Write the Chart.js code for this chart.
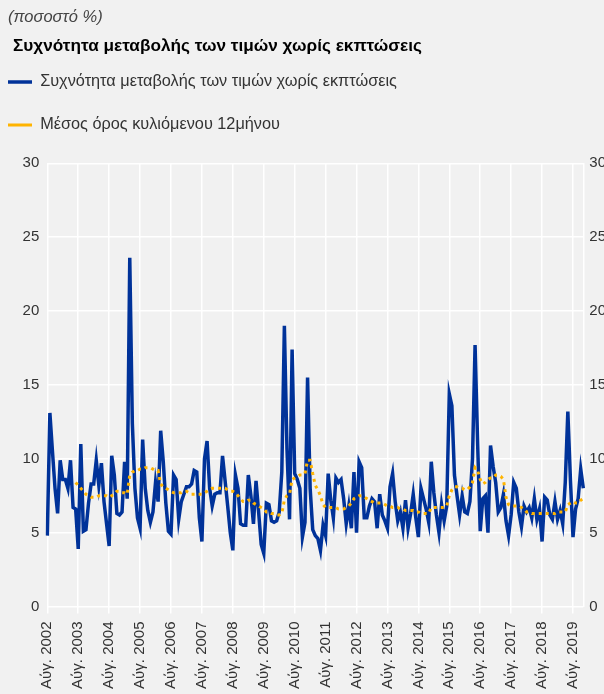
<!DOCTYPE html>
<html>
<head>
<meta charset="utf-8">
<script src="https://cdn.jsdelivr.net/npm/chart.js@4/dist/chart.umd.min.js"></script>
<style>
  html, body { margin: 0; padding: 0; background: #f1f1f1; }
  #wrap { width: 604px; height: 694px; }
</style>
</head>
<body>
<div id="wrap"><canvas id="c" width="604" height="694"></canvas></div>
<script>
// ---------- data ----------
const unitLabel = '(ποσοστό %)';
const chartTitle = 'Συχνότητα μεταβολής των τιμών χωρίς εκπτώσεις';
const seriesNames = ['Συχνότητα μεταβολής των τιμών χωρίς εκπτώσεις', 'Μέσος όρος κυλιόμενου 12μήνου'];
const monthNames = ['Ιαν.', 'Φεβ.', 'Μαρ.', 'Απρ.', 'Μάι.', 'Ιούν.', 'Ιούλ.', 'Αύγ.', 'Σεπ.', 'Οκτ.', 'Νοέ.', 'Δεκ.'];
const startYear = 2002;
const startMonth = 7; // August
const yTicks = [0, 5, 10, 15, 20, 25, 30];

// monthly frequency of price changes excluding sales (Aug 2002 - Dec 2019)
const frequency = [
  4.8, 13.1, 10.5, 8.0, 6.3, 9.9, 8.6, 8.6, 8.0, 9.9, 6.7, 6.6,
  3.9, 11.0, 5.1, 5.2, 7.0, 8.3, 8.3, 9.9, 8.2, 9.7, 7.1, 5.6,
  4.1, 10.2, 8.9, 6.3, 6.2, 6.4, 9.8, 7.3, 23.6, 12.4, 8.0, 6.0,
  5.3, 11.3, 8.0, 6.5, 5.7, 6.4, 8.4, 7.1, 11.9, 9.8, 7.0, 5.1,
  4.9, 8.9, 8.6, 5.9, 7.1, 7.6, 8.1, 8.1, 8.3, 9.2, 9.1, 6.0,
  4.4, 10.0, 11.2, 8.0, 6.8, 7.6, 7.7, 7.7, 10.2, 8.5, 6.8, 5.0,
  3.8, 8.9, 8.0, 5.6, 5.5, 5.5, 8.9, 7.5, 5.6, 8.5, 6.4, 4.2,
  3.6, 7.0, 6.9, 5.8, 5.7, 5.8, 6.4, 9.1, 19.0, 10.7, 5.9, 17.4,
  9.0, 8.6, 8.0, 4.7, 5.7, 15.5, 8.0, 5.2, 4.8, 4.6, 3.8, 5.5,
  4.8, 9.0, 7.2, 6.0, 8.7, 8.4, 8.6, 7.3, 5.6, 6.8, 5.3, 9.1,
  5.0, 9.8, 9.4, 6.0, 6.0, 6.8, 7.3, 7.1, 5.3, 7.6, 6.2, 5.8,
  5.3, 8.1, 9.0, 7.1, 5.8, 6.4, 5.3, 7.2, 5.3, 6.3, 7.6, 6.0,
  4.7, 8.0, 7.3, 6.6, 5.7, 9.8, 7.7, 6.2, 5.0, 6.9, 5.8, 6.8,
  14.4, 13.6, 8.9, 7.5, 6.2, 7.5, 6.4, 6.3, 7.1, 10.0, 17.7, 11.0,
  5.1, 7.3, 7.5, 5.0, 10.9, 9.5, 8.4, 6.4, 6.7, 7.6, 5.8, 4.8,
  6.2, 8.4, 8.0, 6.4, 5.4, 6.8, 6.4, 6.7, 6.0, 7.3, 5.9, 6.6,
  4.4, 7.4, 7.2, 6.2, 5.9, 7.1, 5.9, 6.5, 5.6, 8.4, 13.2, 8.6,
  4.7, 6.6, 7.3, 9.3, 8.0
];

// 12-month rolling average
const rolling12 = [
  null, null, null, null, null, null, null, null, null, null, null, 8.4,
  8.2, 8.0, 7.8, 7.6, 7.5, 7.4, 7.4, 7.4, 7.5, 7.5, 7.5, 7.5,
  7.4, 7.5, 7.6, 7.8, 7.8, 7.7, 7.7, 7.6, 8.9, 9.1, 9.2, 9.2,
  9.3, 9.3, 9.4, 9.4, 9.4, 9.3, 9.2, 9.2, 8.3, 8.1, 8.0, 7.9,
  7.8, 7.7, 7.7, 7.7, 7.7, 7.8, 7.8, 7.7, 7.6, 7.6, 7.6, 7.6,
  7.6, 7.7, 7.8, 7.9, 8.0, 8.0, 8.0, 8.0, 8.0, 8.0, 7.9, 7.8,
  7.8, 7.7, 7.5, 7.3, 7.1, 7.1, 7.2, 7.2, 7.0, 6.9, 6.8, 6.7,
  6.6, 6.4, 6.4, 6.3, 6.3, 6.2, 6.2, 6.3, 7.2, 7.5, 7.6, 8.6,
  8.7, 8.8, 8.9, 8.9, 9.0, 9.9, 9.9, 9.0, 8.2, 7.9, 7.5, 6.9,
  6.7, 6.7, 6.7, 6.7, 6.7, 6.6, 6.6, 6.6, 6.7, 6.8, 7.0, 7.3,
  7.4, 7.5, 7.5, 7.4, 7.3, 7.2, 7.1, 7.0, 7.0, 7.0, 7.0, 6.9,
  6.8, 6.8, 6.7, 6.7, 6.7, 6.6, 6.6, 6.5, 6.5, 6.5, 6.5, 6.4,
  6.4, 6.3, 6.3, 6.3, 6.3, 6.7, 6.7, 6.7, 6.7, 6.7, 6.7, 6.8,
  7.5, 7.9, 8.1, 8.1, 8.0, 8.0, 7.9, 7.9, 8.1, 8.4, 9.4, 9.2,
  8.6, 8.3, 8.4, 8.6, 8.7, 8.7, 8.9, 8.9, 8.8, 8.6, 7.4, 6.9,
  6.8, 6.8, 6.8, 6.8, 6.7, 6.6, 6.4, 6.4, 6.3, 6.3, 6.3, 6.3,
  6.3, 6.3, 6.3, 6.3, 6.3, 6.3, 6.4, 6.4, 6.4, 6.4, 6.9, 7.0,
  7.1, 7.0, 7.0, 7.2, 7.3
];

// category labels (one per month)
const categories = frequency.map((_, i) => {
  const k = startMonth + i;
  return monthNames[k % 12] + ' ' + (startYear + Math.floor(k / 12));
});

// ---------- layout / style ----------
const FONT = "'Liberation Sans', Arial, Helvetica, sans-serif";
const BG = '#f1f1f1';
const PLOT_LEFT = 47.3, PLOT_RIGHT = 583.3, PLOT_BOTTOM = 606.5;
const CANVAS_W = 604, CANVAS_H = 694;
const LEGEND_FONT = 16.3;
const LEGEND_PAD = 43 - LEGEND_FONT;

Chart.defaults.font.family = FONT;
Chart.defaults.color = '#333';

const bgPlugin = {
  id: 'bg',
  beforeDraw(chart) {
    const ctx = chart.ctx;
    ctx.save();
    ctx.fillStyle = BG;
    ctx.fillRect(0, 0, chart.width, chart.height);
    ctx.restore();
  }
};

const layoutTweak = {
  id: 'layoutTweak',
  afterLayout(chart) {
    const lg = chart.legend;
    if (lg) {
      const dx = 8 - (lg.left + LEGEND_PAD);
      lg.left += dx; lg.right += dx;
      const dy = (82 - LEGEND_FONT / 2 - LEGEND_PAD) - lg.top;
      lg.top += dy; lg.bottom += dy;
    }
    chart.boxes.forEach(b => {
      if (b.options && b.options.text === chartTitle) { b.left += 5; b.right += 5; }
    });
  }
};

const gridColor = c => (c.tick && c.tick.value % 12 === 0) ? '#ffffff' : 'rgba(255,255,255,0)';

new Chart(document.getElementById('c'), {
  type: 'line',
  data: {
    labels: categories,
    datasets: [
      {
        label: seriesNames[0],
        data: frequency,
        borderColor: '#003299',
        backgroundColor: '#003299',
        borderWidth: 3.5,
        pointRadius: 0,
        tension: 0,
        order: 2,
        yAxisID: 'y'
      },
      {
        label: seriesNames[1],
        data: rolling12,
        borderColor: '#FFB400',
        backgroundColor: '#FFB400',
        borderWidth: 3,
        borderDash: [3, 4],
        pointRadius: 0,
        tension: 0,
        order: 1,
        yAxisID: 'y'
      }
    ]
  },
  options: {
    responsive: false,
    devicePixelRatio: 1,
    animation: false,
    layout: { padding: { left: 8, right: 0, top: 0, bottom: 0 } },
    plugins: {
      title: {
        display: true,
        text: unitLabel,
        align: 'start',
        color: '#444',
        font: { size: 16.5, style: 'italic', weight: 'normal', lineHeight: 1.2 },
        padding: { top: 7.1, bottom: 0 }
      },
      subtitle: {
        display: true,
        text: chartTitle,
        align: 'start',
        color: '#000',
        font: { size: 17.2, weight: 'bold', lineHeight: 1.2 },
        padding: { top: 8.8, bottom: 11 }
      },
      legend: {
        display: true,
        position: 'top',
        align: 'start',
        labels: {
          usePointStyle: true,
          pointStyle: 'line',
          pointStyleWidth: 24,
          padding: LEGEND_PAD,
          color: '#333',
          font: { size: LEGEND_FONT },
          sort: (a, b) => a.datasetIndex - b.datasetIndex
        }
      },
      tooltip: { enabled: false }
    },
    scales: {
      x: {
        type: 'category',
        offset: false,
        border: { display: false },
        grid: {
          color: gridColor,
          tickColor: gridColor,
          lineWidth: 1.5,
          drawTicks: true,
          tickLength: 7
        },
        ticks: {
          autoSkip: false,
          minRotation: 90,
          maxRotation: 90,
          padding: 8,
          color: '#333',
          font: { size: 15 },
          callback: (v, i) => (i % 12 === 0 ? categories[i] : null)
        },
        afterFit: s => { s.height = CANVAS_H - PLOT_BOTTOM; }
      },
      y: {
        position: 'left',
        min: yTicks[0],
        max: yTicks[yTicks.length - 1],
        border: { display: false },
        grid: { color: '#ffffff', lineWidth: 1.5, drawTicks: false },
        ticks: { stepSize: 5, padding: 8, color: '#333', font: { size: 15 } },
        afterFit: s => { s.width = PLOT_LEFT - 8; }
      },
      y2: {
        position: 'right',
        min: yTicks[0],
        max: yTicks[yTicks.length - 1],
        border: { display: true, color: '#ffffff', width: 1.5 },
        grid: { display: false, drawTicks: false },
        ticks: { stepSize: 5, padding: 6, color: '#333', font: { size: 15 } },
        afterFit: s => { s.width = CANVAS_W - PLOT_RIGHT; }
      }
    }
  },
  plugins: [bgPlugin, layoutTweak]
});
</script>
</body>
</html>
